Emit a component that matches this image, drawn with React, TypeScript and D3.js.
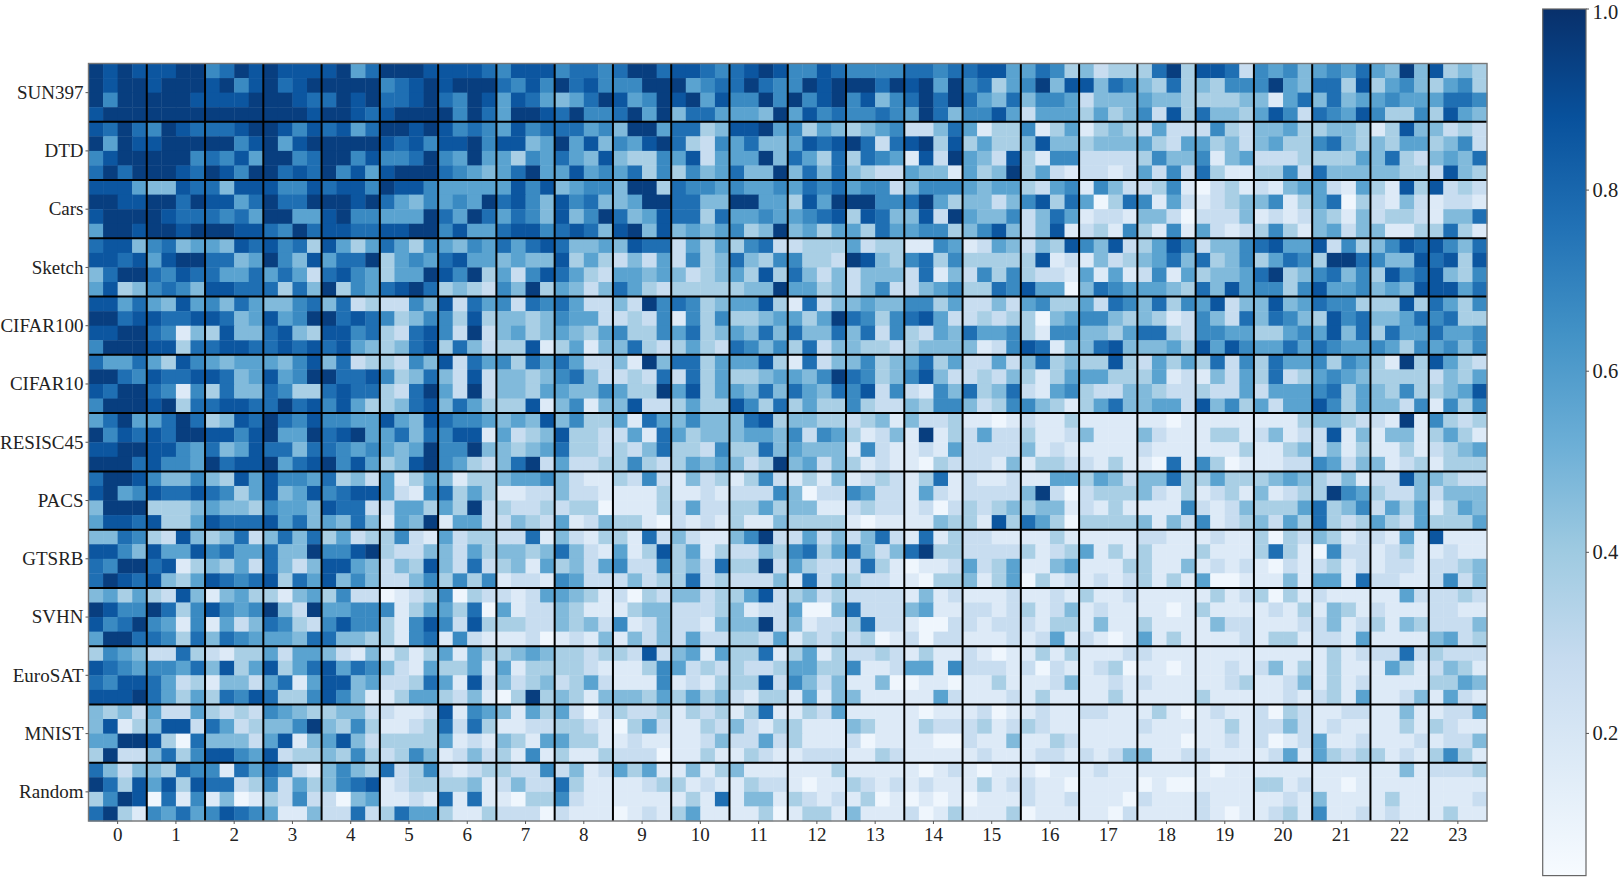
import React from "react";
import * as d3 from "d3";

// Each dataset: 4 lines of cells, 24 groups of 4 cells. Digit = colour level.
const SUN397 = [
  "9898 8899 6798 9888 8957 9998 8887 6888 6776 7997 8876 7898 6687 6666 7767 7885 5763 4233 3793 8872 6564 5657 5494 8343",
  "9899 8999 8968 9789 9999 6789 8999 7686 9786 6699 9567 7976 6989 9979 8959 6735 6948 8476 4373 4366 6954 7738 3564 3563",
  "9699 9998 8889 9987 7989 7789 7698 5875 4579 8569 8958 6696 9689 6846 7979 7547 4665 2444 5443 3334 4157 4745 5655 5776",
  "8999 9999 9999 9998 9987 8999 9697 5998 7966 7959 4775 5549 5867 6676 5974 6685 2555 3534 6283 7443 5862 7658 6336 3854",
];
const DTD = [
  "8797 6987 7789 9868 7857 9989 8676 5867 7756 4995 7734 8895 6354 3456 2247 5133 6135 1343 2522 2632 4453 3443 1384 4232",
  "9598 8999 9968 9589 9999 8786 8896 8845 9584 6589 7326 5744 5878 9727 8938 3533 4844 3444 5325 5342 4533 6743 4355 3462",
  "6899 9996 7685 9967 9968 6679 6595 5365 7548 4336 5825 5594 7537 3765 1829 5428 3166 2222 3644 6145 2223 3335 4732 4547",
  "7979 9987 9869 9787 9685 8999 7654 5795 5856 5736 3645 7449 4747 4322 5441 5349 3521 2212 5262 7311 3362 7444 4433 2843",
];
const Cars = [
  "8885 4487 7488 8668 7886 9886 5555 5868 4566 4993 7665 6556 5767 5662 4666 5455 3256 1642 2361 0231 2145 5215 3183 8232",
  "9988 9979 8857 9779 9989 7546 5659 7864 8674 4599 7744 9955 3859 9966 7953 4424 6837 5037 6152 1234 4613 5703 2142 1221",
  "8999 9877 7675 9955 8966 5559 7597 5764 8469 7458 7737 5565 5678 3874 4829 5446 2475 1221 4420 2224 1212 4314 2332 1447",
  "5998 9989 9988 7697 8877 8899 6855 7886 7874 8948 4545 6349 4535 5375 5663 4684 2481 2316 3161 5212 3631 4524 4113 3731",
];
const Sketch = [
  "7884 6745 5487 8673 8535 7536 5465 7578 7445 4877 2535 3672 2333 5233 1165 1254 2438 6482 3586 2446 7855 8263 4687 8647",
  "8878 5899 7745 9648 5779 3565 7855 4544 8353 2425 2634 7436 6332 9843 6736 3333 3812 1423 4574 7346 3576 3997 6448 7838",
  "4799 7687 7557 5752 7865 3559 8693 5268 7532 5545 4234 5383 7424 2444 2714 2636 3221 5151 2615 3445 7934 6746 3867 8436",
  "5834 6764 8877 7374 9365 7897 3432 6493 5424 7532 3333 3449 5534 2462 2456 3376 8550 4765 5543 7485 6636 8556 4548 8857",
];
const CIFAR100 = [
  "8857 5485 6475 4467 4723 2264 8275 6276 7522 4296 7634 5583 1724 4544 6635 2242 5633 5276 4736 5824 4845 7663 3383 7536",
  "9978 8778 8745 8569 9787 6346 6383 4434 6552 2326 1636 3345 5359 7636 7852 2323 3045 6643 4312 6427 4764 3867 4457 6733",
  "8899 7614 3844 7843 8867 3278 6292 4534 5435 6336 5734 5474 7447 4726 3254 7556 3166 4435 7732 6655 3356 5847 3755 7556",
  "6999 8837 7887 7878 7854 3478 3742 3381 3514 4732 3532 7646 3724 4332 3444 4126 8714 4784 4453 8586 5575 7655 6536 5646",
];
const CIFAR10 = [
  "7557 5386 5455 5468 4723 3264 8275 6375 7522 4194 7735 5583 1724 4634 5735 2252 4734 3383 2535 3726 3755 6365 3193 8532",
  "9976 8778 8745 8569 9778 6347 4282 4434 6742 2327 2735 3345 5469 7634 6842 2324 3135 5533 3512 1425 3723 5654 3333 2435",
  "8799 7616 3744 7633 7877 3279 5292 4435 5446 5339 5835 5474 7547 6826 2164 7347 2156 3224 4322 3225 2555 6735 4363 3458",
  "6999 8937 7887 7978 6853 3478 4753 3381 4614 4822 3533 8637 3533 6322 4366 4236 6431 3574 4552 8463 5255 8635 4426 1636",
];
const RESISC45 = [
  "5795 5797 3487 9768 6655 8548 7665 4548 4633 5175 4644 4783 4433 2341 4223 1101 2113 1111 1101 1111 1113 4432 2191 6323",
  "9687 8799 8868 9559 7895 5747 6881 5234 8332 2517 5344 4554 6265 3124 1913 2522 3112 4111 4211 1331 2412 2814 1441 3531",
  "8899 8865 7458 7747 7656 5459 6694 4345 7332 3247 3326 3374 5444 1621 1215 2222 4121 1111 2111 1113 1134 2413 1131 2345",
  "9997 8665 9788 9578 9685 3489 6532 4792 5223 3632 3545 4239 4524 3121 1032 2214 1332 2131 1071 6301 1122 6524 4123 1333",
];
const PACS = [
  "7998 6446 4385 8665 7342 5135 4133 4556 4211 3262 1423 1362 1314 1232 1371 2112 1155 3542 4473 3533 3454 3241 2284 4322",
  "8956 8778 7635 8458 6788 5216 7353 1122 4221 1113 1121 2226 4022 6522 1521 2222 4920 2333 4213 1231 4123 3965 3224 2444",
  "4999 3334 5443 6554 8772 2553 5392 3223 2330 1113 2522 3353 4411 2322 1202 3234 3441 2131 1116 2124 3335 7346 2535 1354",
  "5887 8335 8777 8574 5474 1549 1552 2432 5124 3310 2121 3114 3333 1011 1143 3183 7530 3333 4142 6123 4253 7323 5325 3335",
];
const GTSRB = [
  "4476 3284 3472 4747 3523 3621 5233 2271 4213 3172 4211 4692 2524 2472 1713 2211 1131 1111 2211 1211 3032 4312 2151 8111",
  "8864 8558 6755 7449 6689 3224 4253 4434 7421 5138 3513 2243 6735 7424 7933 2222 3123 5131 3111 3111 3731 0622 1231 1211",
  "7699 7813 4352 7424 8854 2438 4272 3415 3425 6226 3427 3392 5322 2731 0112 5235 1145 1113 3114 1212 1021 2312 1221 2234",
  "7987 8435 8767 8375 8464 2246 3636 1221 6522 2423 3723 2224 1724 3221 1033 4135 0312 1212 3131 5001 1141 5517 2211 2624",
];
const SVHN = [
  "4535 3284 1453 3145 3622 0123 6032 2125 5431 2032 4423 3582 3423 2222 1412 1112 1121 3112 1111 1312 3031 2111 1152 2232",
  "9866 9736 8656 9429 5566 6135 5370 5122 4311 1344 2223 4122 5004 7222 4511 2212 3124 1211 1101 3111 1213 1431 2111 2211",
  "8679 6516 1524 7632 6866 3168 6283 3322 4342 6124 2214 4492 4122 3722 1002 2122 2133 1411 3111 1422 1112 2412 3143 2224",
  "5997 7637 4765 5547 7443 3167 1621 1120 1214 1424 2522 3325 1323 2301 2022 1112 1251 2101 5131 1112 1331 2215 1111 4523",
];
const EuroSAT = [
  "3654 2273 2133 5255 4214 1313 5153 3454 3323 3282 4515 3371 3513 2232 1311 2101 1313 1112 2111 1111 1111 1312 2272 3222",
  "8765 6657 4835 8357 8576 4215 3351 5133 3321 1136 5232 3223 5533 6112 5516 2221 2021 1230 1101 1121 2413 1311 1531 2431",
  "7688 7523 1442 5715 8845 2237 5182 4234 2352 1116 1213 3382 6424 1140 0110 1131 1124 1121 2111 1123 1124 1312 1111 3354",
  "8889 7535 3768 7336 8641 1355 3241 0393 4314 4435 3534 2133 1514 4111 1152 1112 1311 1131 1111 3111 1121 2315 1124 1521",
];
const MNIST = [
  "4342 5225 3232 6543 3442 2112 8165 4153 5202 3223 1323 1371 1325 1111 1011 1201 1211 2211 1310 1211 2032 1122 1141 1225",
  "4813 4882 7523 4469 4363 1123 7273 1122 3321 0352 1132 4213 3111 4311 1322 2312 3211 1111 2111 1131 2242 1211 1131 3211",
  "5599 8307 4442 5814 5842 3333 5121 4315 5331 1211 1124 2252 3111 2011 1100 2114 1132 1111 1110 1121 2012 5112 1112 1224",
  "3922 4736 8865 8233 4363 2364 1242 3161 3113 2220 1131 1321 1222 1132 1111 1211 1221 2124 4112 2111 1251 5323 3121 3631",
];
const RandomNet = [
  "7424 4376 6175 7621 4643 7236 2123 3226 2412 5351 1413 4111 1113 1111 1012 1011 1011 1211 1111 1011 1111 1111 1141 2223",
  "9738 5838 7723 6253 4678 1233 3341 2422 7311 1123 3121 1322 1011 3212 1211 1312 2110 1111 0100 1111 3312 1101 1111 1111",
  "3698 0716 1401 3262 2045 1121 7171 1033 6211 1111 1317 1441 3212 1301 0101 0111 2112 1110 2111 2111 1121 4111 1311 1112",
  "7931 6575 6876 5114 2272 3755 3113 2220 2111 0121 3511 1130 1331 4111 2013 1113 0111 1102 1111 2101 1231 6112 1211 1311",
];

const categories = ["SUN397", "DTD", "Cars", "Sketch", "CIFAR100", "CIFAR10", "RESISC45", "PACS", "GTSRB", "SVHN", "EuroSAT", "MNIST", "Random"];
const rowsData = [SUN397, DTD, Cars, Sketch, CIFAR100, CIFAR10, RESISC45, PACS, GTSRB, SVHN, EuroSAT, MNIST, RandomNet];
const columns = d3.range(24);
const colorbarTicks = [0.2, 0.4, 0.6, 0.8, 1.0];
const levelValues = [0.08, 0.17, 0.27, 0.37, 0.47, 0.57, 0.67, 0.77, 0.86, 0.95];

const VMIN = 0.043;
const VMAX = 1.0;
const SERIF = "'Liberation Serif', serif";

const blues = d3.schemeBlues[9];
const color = d3
  .scaleLinear<string>()
  .domain(blues.map((_, i) => VMIN + ((VMAX - VMIN) * i) / 8))
  .range(blues as string[])
  .interpolate(d3.interpolateRgb)
  .clamp(true);

const x = d3.scaleLinear().domain([-0.5, 23.5]).range([88.5, 1487]);
const y = d3.scaleLinear().domain([-0.5, 12.5]).range([63.5, 821]);
const cbY = d3.scaleLinear().domain([VMIN, VMAX]).range([875.6, 9]);
const CB_X0 = 1542.7;
const CB_X1 = 1586;
const cellW = (x(1) - x(0)) / 4;
const cellH = (y(1) - y(0)) / 4;

export default function App() {
  return (
    <svg
      width={1619}
      height={877}
      viewBox="0 0 1619 877"
      style={{ position: "absolute", left: 0, top: 0, display: "block", background: "#fff" }}
    >
      <defs>
        <linearGradient id="cb" x1="0" y1="1" x2="0" y2="0">
          {blues.map((c, i) => (
            <stop key={i} offset={i / 8} stopColor={c} />
          ))}
        </linearGradient>
      </defs>
      <g>
        {rowsData.map((lines, r) =>
          lines.map((line, li) =>
            line.split(" ").map((group, b) =>
              group.split("").map((ch, ci) => {
                const px = x(b - 0.5) + ci * cellW;
                const py = y(r - 0.5) + li * cellH;
                return (
                  <rect
                    key={`${r}-${li}-${b}-${ci}`}
                    x={px}
                    y={py}
                    width={cellW + 0.4}
                    height={cellH + 0.4}
                    fill={color(levelValues[+ch])}
                  />
                );
              })
            )
          )
        )}
      </g>
      <g stroke="#000" strokeWidth={2}>
        {columns.slice(1).map((c) => (
          <line key={c} x1={x(c - 0.5)} x2={x(c - 0.5)} y1={y(-0.5)} y2={y(12.5)} />
        ))}
        {categories.slice(1).map((_, i) => (
          <line key={i} x1={x(-0.5)} x2={x(23.5)} y1={y(i + 0.5)} y2={y(i + 0.5)} />
        ))}
      </g>
      <rect x={x(-0.5)} y={y(-0.5)} width={x(23.5) - x(-0.5)} height={y(12.5) - y(-0.5)} fill="none" stroke="#777" strokeWidth={1.4} />
      <g fontFamily={SERIF} fontSize={19} fill="#222">
        {categories.map((name, i) => (
          <g key={name}>
            <line x1={85.5} x2={88.5} y1={y(i)} y2={y(i)} stroke="#555" strokeWidth={1} />
            <text x={83.5} y={y(i)} dy="0.33em" textAnchor="end">
              {name}
            </text>
          </g>
        ))}
        {columns.map((c) => (
          <g key={c}>
            <line x1={x(c)} x2={x(c)} y1={821} y2={824} stroke="#555" strokeWidth={1} />
            <text x={x(c)} y={840.5} textAnchor="middle">
              {c}
            </text>
          </g>
        ))}
      </g>
      <rect x={CB_X0} y={9} width={CB_X1 - CB_X0} height={866.6} fill="url(#cb)" stroke="#666" strokeWidth={1.2} />
      <g fontFamily={SERIF} fontSize={20.5} fill="#222">
        {colorbarTicks.map((t) => (
          <g key={t}>
            <line x1={CB_X1} x2={CB_X1 + 3} y1={cbY(t)} y2={cbY(t)} stroke="#555" strokeWidth={1} />
            <text x={1592.5} y={Math.max(cbY(t) + 7, 18.6)}>
              {t.toFixed(1)}
            </text>
          </g>
        ))}
      </g>
    </svg>
  );
}
